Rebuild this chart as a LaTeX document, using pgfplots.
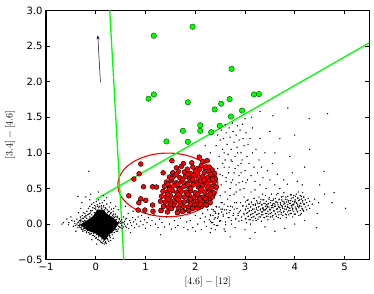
\documentclass[border=0pt]{standalone}
\usepackage{fontspec}
\setmainfont{DejaVu Sans}
\usepackage{pgfplots}
\pgfplotsset{compat=1.18}
\usetikzlibrary{arrows.meta,calc}
\definecolor{mplgreen}{HTML}{00FF00}
\definecolor{mplred}{HTML}{FF0000}

% black field sources
\pgfplotstableread[row sep=\\]{
x y\\
-0.65 0.02\\ -0.55 -0.01\\ -0.48 0.05\\ -0.45 -0.03\\ -0.42 0.01\\ -0.38 0.07\\ -0.36 -0.05\\ -0.34 0.03\\
-0.32 -0.02\\ -0.31 0.1\\ -0.3 0.05\\ -0.29 -0.07\\ -0.27 0.12\\ -0.26 -0.1\\ -0.25 0.08\\ -0.24 0.03\\
-0.23 -0.06\\ -0.22 0.15\\ -0.2 0.1\\ -0.19 -0.12\\ -0.18 0.18\\ -0.17 -0.08\\ -0.15 0.22\\ -0.14 0.14\\
-0.13 -0.14\\ -0.12 0.25\\ -0.1 0.19\\ -0.09 -0.13\\ -0.08 0.28\\ -0.06 0.23\\ -0.05 -0.16\\ -0.04 0.3\\
-0.02 0.26\\ 0.0 -0.2\\ 0.01 0.32\\ 0.03 0.27\\ 0.05 -0.22\\ 0.06 0.34\\ 0.08 0.29\\ 0.1 -0.25\\
0.11 0.24\\ 0.13 0.3\\ 0.14 -0.27\\ 0.16 0.26\\ 0.17 0.33\\ 0.19 -0.26\\ 0.2 0.22\\ 0.22 0.28\\
0.23 -0.2\\ 0.25 0.18\\ 0.27 0.24\\ 0.28 -0.16\\ 0.3 0.15\\ 0.31 0.21\\ 0.32 -0.12\\ 0.34 0.12\\
0.35 0.18\\ 0.36 -0.09\\ 0.38 0.09\\ 0.39 0.14\\ 0.4 -0.07\\ 0.42 0.06\\ 0.43 0.11\\ 0.44 -0.1\\
0.46 0.03\\ 0.47 0.08\\ 0.48 -0.04\\ 0.5 0.01\\ 0.52 0.06\\ 0.53 -0.06\\ 0.55 0.02\\ 0.56 0.1\\
-0.2 0.38\\ -0.28 0.3\\ 0.05 0.45\\ 0.22 0.37\\ -0.35 0.16\\ -0.12 0.34\\ 0.3 0.3\\ 0.15 0.4\\
-0.4 -0.1\\ -0.5 0.1\\ 0.26 -0.24\\ 0.35 -0.2\\ 0.02 -0.28\\ -0.08 -0.22\\ -0.3 0.22\\ 0.4 0.25\\
0.45 0.2\\ -0.58 0.07\\ -0.1 0.42\\ -0.14 0.74\\ -0.36 0.39\\ -0.54 0.02\\ -0.68 0.0\\
-0.32 0.0\\ -0.3 0.03\\ -0.28 -0.04\\ -0.22 0.05\\ -0.18 0.08\\ -0.12 0.1\\ -0.08 0.13\\ -0.03 0.16\\
0.0 0.21\\ 0.06 0.23\\ 0.12 0.22\\ 0.18 0.2\\ 0.24 0.16\\ 0.28 0.13\\ 0.35 0.1\\ 0.4 0.06\\
0.47 0.02\\ 0.46 -0.03\\ 0.41 -0.08\\ 0.33 -0.11\\ 0.28 -0.17\\ 0.22 -0.2\\ 0.2 -0.25\\ 0.15 -0.24\\
0.12 -0.21\\ 0.06 -0.18\\ 0.02 -0.15\\ -0.04 -0.13\\ -0.1 -0.1\\ -0.16 -0.09\\ -0.24 -0.06\\ -0.26 0.04\\
-0.38 0.0\\ -0.36 0.02\\ -0.35 -0.02\\ -0.33 0.05\\ -0.33 -0.04\\ -0.3 0.07\\ -0.3 -0.05\\ -0.27 0.08\\
-0.26 -0.08\\ -0.23 0.1\\ -0.22 -0.09\\ -0.2 0.12\\ -0.18 -0.11\\ -0.16 0.13\\ -0.14 -0.12\\ -0.12 0.15\\
-0.1 0.17\\ -0.1 -0.14\\ -0.07 0.19\\ -0.06 -0.16\\ -0.03 0.22\\ -0.02 -0.17\\ 0.0 0.24\\ 0.01 -0.19\\
0.04 0.25\\ 0.04 -0.22\\ 0.08 0.25\\ 0.08 -0.23\\ 0.11 0.26\\ 0.12 -0.26\\ 0.15 0.24\\ 0.17 -0.28\\
0.19 0.23\\ 0.21 -0.27\\ 0.23 0.2\\ 0.24 -0.22\\ 0.27 0.18\\ 0.29 -0.19\\ 0.31 0.16\\ 0.33 -0.15\\
0.35 0.14\\ 0.37 -0.12\\ 0.39 0.11\\ 0.41 -0.1\\ 0.43 0.09\\ 0.45 -0.07\\ 0.47 0.06\\ 0.49 -0.05\\
0.5 0.04\\ 0.52 -0.02\\ 0.53 0.02\\ 0.55 -0.04\\ -0.43 0.04\\ -0.41 -0.02\\ 0.58 0.0\\ 0.6 0.07\\
0.62 -0.05\\ -0.25 0.16\\ 0.36 0.22\\ 0.3 -0.23\\
0.58 0.04\\ 0.6 -0.03\\ 0.62 0.08\\ 0.64 0.0\\ 0.66 -0.06\\ 0.68 0.05\\ 0.7 0.02\\ 0.72 -0.02\\
0.74 0.09\\ 0.76 0.03\\ 0.78 -0.05\\ 0.8 0.06\\ 0.82 0.0\\ 0.85 0.1\\ 0.87 -0.03\\ 0.9 0.04\\
0.92 0.12\\ 0.95 -0.01\\ 0.98 0.06\\ 1.0 -0.06\\ 1.03 0.02\\ 1.06 0.09\\ 1.1 -0.02\\ 1.13 0.05\\
1.17 0.13\\ 1.2 0.0\\ 1.25 -0.05\\ 1.28 0.07\\ 1.33 0.02\\ 1.38 -0.04\\ 1.42 0.1\\ 1.48 0.0\\
1.52 -0.07\\ 1.58 0.05\\ 1.65 -0.02\\ 1.7 0.08\\ 1.77 -0.05\\ 1.83 0.03\\ 0.65 0.15\\ 0.75 0.18\\
0.9 0.2\\ 0.6 0.25\\ 0.7 -0.12\\ 1.0 0.15\\ 1.3 -0.15\\
1.9 0.05\\ 1.95 -0.05\\ 2.0 0.12\\ 2.05 0.0\\ 2.1 0.08\\ 2.12 -0.08\\ 2.15 0.15\\ 2.18 0.03\\
2.2 0.1\\ 2.22 -0.03\\ 2.25 0.2\\ 2.28 0.06\\ 2.3 0.13\\ 2.32 -0.06\\ 2.35 0.02\\ 2.38 0.18\\
2.4 0.09\\ 2.42 0.25\\ 2.45 -0.02\\ 2.47 0.14\\ 2.5 0.05\\ 2.52 0.3\\ 2.55 0.21\\ 2.58 -0.07\\
1.6 -0.05\\ 2.0 -0.1\\ 2.3 -0.12\\ 1.85 -0.08\\
2.5 0.4\\ 2.52 0.55\\ 2.55 0.68\\ 2.6 0.45\\ 2.58 0.8\\ 2.62 0.6\\ 2.65 0.35\\ 2.67 0.72\\
2.7 0.5\\ 2.72 0.9\\ 2.75 0.62\\ 2.78 0.42\\ 2.8 0.78\\ 2.82 0.55\\ 2.85 1.0\\ 2.88 0.68\\
2.9 0.48\\ 2.92 0.85\\ 2.95 0.6\\ 2.98 0.38\\
2.42 1.1\\ 2.45 1.25\\ 2.48 0.95\\ 2.5 1.18\\ 2.52 1.32\\ 2.55 1.05\\ 2.57 1.2\\ 2.6 0.9\\
2.62 1.28\\ 2.64 1.12\\ 2.66 0.98\\ 2.68 1.35\\ 2.7 1.22\\ 2.72 1.05\\ 2.74 0.88\\ 2.76 1.3\\
2.78 1.15\\ 2.8 0.95\\ 2.82 1.25\\ 2.84 1.08\\ 2.86 0.82\\ 2.88 1.18\\ 2.9 1.32\\ 2.92 1.0\\
2.94 0.9\\ 2.96 1.2\\ 2.98 1.1\\ 3.0 0.75\\ 3.02 1.28\\ 3.04 0.95\\ 3.06 1.12\\ 3.08 0.85\\
3.1 1.2\\ 3.12 0.68\\ 3.15 1.0\\ 3.18 0.8\\ 3.2 0.6\\ 3.22 1.05\\ 3.25 0.72\\ 3.28 0.9\\
3.3 0.55\\ 3.33 0.8\\ 3.36 0.65\\ 3.4 1.0\\ 3.42 0.5\\ 3.45 0.75\\ 3.5 0.62\\ 3.55 0.85\\
3.6 0.55\\ 3.65 0.7\\ 3.7 0.5\\ 3.78 0.62\\ 3.85 0.56\\ 3.95 0.72\\ 4.05 0.6\\ 4.15 0.55\\
2.45 0.78\\ 2.5 0.7\\ 2.55 0.85\\ 2.6 1.4\\ 2.75 1.42\\ 2.85 1.38\\ 2.58 1.0\\ 2.68 0.8\\
2.78 0.72\\ 2.88 0.58\\ 2.98 0.5\\ 3.05 0.62\\ 3.12 0.45\\ 3.2 0.48\\ 3.35 0.42\\ 3.15 1.35\\
2.95 1.4\\ 2.62 0.65\\ 2.72 0.58\\ 2.82 0.45\\ 2.92 0.72\\ 3.02 0.58\\ 2.7 0.4\\
2.31 0.12\\ 2.33 0.02\\ 2.36 0.2\\ 2.38 0.07\\ 2.41 0.15\\ 2.43 -0.02\\ 2.46 0.1\\ 2.48 0.24\\
2.51 0.05\\ 2.53 0.17\\ 2.56 0.13\\ 2.58 0.28\\ 2.61 0.03\\ 2.63 0.2\\ 2.66 0.09\\ 2.68 0.16\\
2.71 0.25\\ 2.73 0.0\\ 2.76 0.12\\ 2.78 0.21\\ 2.81 0.07\\ 2.83 0.3\\ 2.86 0.15\\ 2.88 0.04\\
2.91 0.19\\ 2.93 0.1\\ 2.96 0.26\\ 2.98 0.13\\
3.01 0.08\\ 3.01 0.2\\ 3.01 0.31\\ 3.03 0.15\\ 3.03 0.02\\ 3.03 0.25\\ 3.06 0.11\\ 3.06 0.22\\
3.06 0.34\\ 3.08 0.06\\ 3.08 0.18\\ 3.08 0.28\\ 3.11 0.13\\ 3.11 0.24\\ 3.11 0.0\\ 3.13 0.19\\
3.13 0.09\\ 3.13 0.3\\ 3.16 0.15\\ 3.16 0.27\\ 3.16 0.05\\ 3.18 0.21\\ 3.18 0.11\\ 3.18 0.36\\
3.21 0.17\\ 3.21 0.28\\ 3.21 0.08\\ 3.23 0.13\\ 3.23 0.23\\ 3.23 0.33\\ 3.26 0.19\\ 3.26 0.07\\
3.26 0.29\\ 3.28 0.15\\ 3.28 0.25\\ 3.28 0.38\\ 3.31 0.21\\ 3.31 0.1\\ 3.31 0.31\\ 3.33 0.17\\
3.33 0.27\\ 3.33 0.04\\ 3.36 0.23\\ 3.36 0.13\\ 3.36 0.34\\ 3.38 0.19\\ 3.38 0.29\\ 3.38 0.09\\
3.41 0.15\\ 3.41 0.25\\ 3.41 0.4\\ 3.43 0.22\\ 3.43 0.11\\ 3.43 0.32\\ 3.46 0.18\\ 3.46 0.28\\
3.46 0.06\\ 3.48 0.24\\ 3.48 0.14\\ 3.48 0.35\\ 3.51 0.2\\ 3.51 0.3\\ 3.51 0.1\\ 3.53 0.16\\
3.53 0.26\\ 3.53 0.42\\ 3.56 0.23\\ 3.56 0.12\\ 3.56 0.33\\ 3.58 0.19\\ 3.58 0.29\\ 3.58 0.07\\
3.61 0.25\\ 3.61 0.15\\ 3.61 0.36\\ 3.63 0.21\\ 3.63 0.31\\ 3.63 0.11\\ 3.66 0.17\\ 3.66 0.27\\
3.66 0.43\\ 3.68 0.24\\ 3.68 0.13\\ 3.68 0.34\\ 3.71 0.2\\ 3.71 0.3\\ 3.71 0.08\\ 3.73 0.26\\
3.73 0.16\\ 3.73 0.38\\ 3.76 0.22\\ 3.76 0.32\\ 3.76 0.12\\ 3.78 0.18\\ 3.78 0.28\\ 3.78 0.44\\
3.81 0.25\\ 3.81 0.14\\ 3.81 0.35\\ 3.83 0.21\\ 3.83 0.31\\ 3.83 0.09\\ 3.86 0.27\\ 3.86 0.17\\
3.86 0.39\\ 3.88 0.23\\ 3.88 0.33\\ 3.88 0.13\\ 3.91 0.19\\ 3.91 0.29\\ 3.91 0.41\\ 3.93 0.26\\
3.93 0.15\\ 3.93 0.36\\ 3.96 0.22\\ 3.96 0.32\\ 3.96 0.1\\ 3.98 0.28\\ 3.98 0.18\\ 3.98 0.4\\
4.01 0.24\\ 4.01 0.34\\ 4.01 0.14\\ 4.03 0.2\\ 4.03 0.3\\ 4.03 0.42\\ 4.06 0.27\\ 4.06 0.17\\
4.06 0.37\\ 4.08 0.23\\ 4.08 0.33\\ 4.08 0.12\\ 4.11 0.29\\ 4.11 0.19\\ 4.11 0.4\\ 4.13 0.25\\
4.13 0.35\\ 4.13 0.15\\ 4.16 0.21\\ 4.16 0.31\\ 4.16 0.44\\ 4.18 0.28\\ 4.18 0.18\\ 4.18 0.38\\
4.21 0.24\\ 4.21 0.34\\ 4.24 0.3\\ 4.24 0.2\\ 4.27 0.26\\ 4.27 0.36\\ 4.3 0.22\\ 4.3 0.32\\
4.35 0.28\\ 4.4 0.35\\ 4.48 0.3\\
3.006 0.21\\ 3.018 0.07\\ 3.030 0.25\\ 3.042 0.33\\ 3.054 0.16\\ 3.066 0.11\\ 3.078 0.28\\ 3.090 0.19\\
3.102 0.06\\ 3.114 0.24\\ 3.126 0.31\\ 3.138 0.14\\ 3.150 0.21\\ 3.162 0.10\\ 3.174 0.27\\ 3.186 0.36\\
3.198 0.17\\ 3.210 0.26\\ 3.222 0.05\\ 3.234 0.21\\ 3.246 0.31\\ 3.258 0.14\\ 3.270 0.24\\ 3.282 0.10\\
3.294 0.29\\ 3.306 0.20\\ 3.318 0.35\\ 3.330 0.13\\ 3.342 0.27\\ 3.354 0.17\\ 3.366 0.21\\ 3.378 0.34\\
3.390 0.09\\ 3.402 0.29\\ 3.414 0.20\\ 3.426 0.27\\ 3.438 0.15\\ 3.450 0.25\\ 3.462 0.11\\ 3.474 0.29\\
3.486 0.37\\ 3.498 0.20\\ 3.510 0.15\\ 3.522 0.33\\ 3.534 0.23\\ 3.546 0.10\\ 3.558 0.28\\ 3.570 0.35\\
3.582 0.18\\ 3.594 0.25\\ 3.606 0.14\\ 3.618 0.31\\ 3.630 0.41\\ 3.642 0.21\\ 3.654 0.30\\ 3.666 0.09\\
3.678 0.25\\ 3.690 0.35\\ 3.702 0.18\\ 3.714 0.28\\ 3.726 0.14\\ 3.738 0.34\\ 3.750 0.24\\ 3.762 0.39\\
3.774 0.17\\ 3.786 0.31\\ 3.798 0.21\\ 3.810 0.25\\ 3.822 0.38\\ 3.834 0.13\\ 3.846 0.34\\ 3.858 0.24\\
3.870 0.31\\ 3.882 0.19\\ 3.894 0.29\\ 3.906 0.15\\ 3.918 0.33\\ 3.930 0.41\\ 3.942 0.24\\ 3.954 0.20\\
3.966 0.37\\ 3.978 0.27\\ 3.990 0.14\\ 4.002 0.32\\ 4.014 0.39\\ 4.026 0.22\\ 4.038 0.29\\ 4.050 0.18\\
4.062 0.36\\ 4.074 0.45\\ 4.086 0.25\\ 4.098 0.34\\ 4.110 0.13\\ 4.122 0.29\\ 4.134 0.39\\ 4.146 0.22\\
4.158 0.33\\ 4.170 0.19\\ 4.182 0.38\\ 4.194 0.28\\
2.310 0.04\\ 2.333 0.21\\ 2.356 0.12\\ 2.379 -0.01\\ 2.402 0.17\\ 2.425 0.24\\ 2.448 0.08\\ 2.471 0.15\\
2.494 0.04\\ 2.517 0.21\\ 2.540 0.30\\ 2.563 0.11\\ 2.586 0.20\\ 2.609 -0.01\\ 2.632 0.15\\ 2.655 0.25\\
2.678 0.09\\ 2.701 0.19\\ 2.724 0.05\\ 2.747 0.24\\ 2.770 0.15\\ 2.793 0.30\\ 2.816 0.08\\ 2.839 0.22\\
2.862 0.12\\ 2.885 0.17\\ 2.908 0.30\\ 2.931 0.05\\ 2.954 0.25\\ 2.977 0.15\\
3.35 0.22\\ 3.45 0.24\\ 3.55 0.26\\ 3.65 0.22\\ 3.75 0.25\\ 3.85 0.24\\ 3.95 0.27\\ 4.05 0.25\\
3.4 0.2\\ 3.5 0.21\\ 3.6 0.28\\ 3.7 0.23\\ 3.8 0.29\\ 3.9 0.22\\ 4.0 0.3\\ 4.1 0.26\\
2.4 -0.08\\ 2.6 -0.1\\ 2.8 -0.05\\ 3.0 -0.08\\ 3.2 -0.12\\ 3.4 -0.04\\ 3.6 -0.1\\ 3.8 -0.06\\
4.0 0.0\\ 4.2 0.05\\
3.86 1.63\\ 3.56 1.52\\ 4.29 1.48\\ 4.66 1.55\\ 3.3 1.58\\ 3.13 1.5\\ 3.0 1.48\\ 4.59 0.74\\
4.79 0.44\\ 5.02 0.22\\ 4.44 -0.05\\ 4.6 0.42\\ 4.5 0.55\\ 4.2 0.8\\ 3.9 0.95\\ 4.3 1.05\\
3.7 1.2\\ 3.5 1.3\\ 4.0 1.25\\ 3.6 1.0\\ 3.3 1.2\\ 2.2 1.1\\ 2.3 1.0\\ 2.35 1.3\\
4.75 0.3\\ 4.45 0.15\\ 3.1 -0.2\\ 2.7 -0.18\\
}\blackpts

% solid core of the black cloud
\pgfplotstableread[row sep=\\]{
x y\\
-0.31 -0.01\\ -0.15 0.06\\ -0.05 0.11\\ 0.03 0.2\\ 0.15 0.2\\ 0.22 0.14\\ 0.32 0.1\\
0.46 0.01\\ 0.38 -0.07\\ 0.26 -0.15\\ 0.18 -0.23\\ 0.1 -0.18\\ 0.0 -0.13\\ -0.19 -0.08\\
}\corepoly

\pgfplotstableread[row sep=\\]{
x y\\
0.905 0.843\\ 1.53 0.889\\ 0.871 0.706\\ 0.765 0.632\\ 0.96 0.524\\ 0.664 0.397\\ 0.905 0.355\\
0.865 0.299\\ 1.006 0.333\\ 0.851 0.197\\ 0.986 0.197\\ 1.141 0.267\\ 1.141 0.524\\ 1.354 0.72\\
1.549 0.716\\ 1.314 0.192\\ 1.523 0.22\\ 1.644 0.164\\ 1.744 0.183\\ 1.871 0.192\\ 1.95 0.225\\
2.41 0.52\\ 2.36 0.43\\ 2.29 0.337\\ 2.23 0.267\\ 2.06 0.267\\ 1.76 0.183\\ 1.22 0.52\\ 1.15 0.18\\
2.08 0.94\\ 2.24 0.89\\ 1.93 0.86\\ 1.76 0.85\\ 2.15 0.88\\
1.62 0.79\\ 1.72 0.81\\ 1.84 0.77\\ 1.95 0.8\\ 2.05 0.78\\ 2.12 0.82\\ 2.2 0.79\\ 2.28 0.8\\ 2.34 0.76\\
1.55 0.72\\ 1.66 0.74\\ 1.78 0.73\\ 1.9 0.71\\ 2.0 0.74\\ 2.09 0.77\\ 2.18 0.72\\ 2.27 0.74\\ 2.39 0.71\\
1.48 0.66\\ 1.58 0.68\\ 1.69 0.65\\ 1.8 0.67\\ 1.88 0.64\\ 1.97 0.68\\ 2.06 0.66\\ 2.15 0.67\\
2.24 0.65\\ 2.33 0.68\\ 2.4 0.64\\
1.42 0.59\\ 1.52 0.61\\ 1.62 0.58\\ 1.73 0.6\\ 1.83 0.57\\ 1.92 0.61\\ 2.02 0.59\\ 2.11 0.6\\
2.2 0.58\\ 2.29 0.61\\ 2.38 0.59\\
1.38 0.53\\ 1.47 0.52\\ 1.57 0.54\\ 1.67 0.51\\ 1.77 0.53\\ 1.87 0.52\\ 1.96 0.55\\ 2.06 0.52\\
2.15 0.54\\ 2.25 0.51\\ 2.34 0.53\\ 2.42 0.52\\
1.35 0.46\\ 1.44 0.45\\ 1.54 0.47\\ 1.63 0.44\\ 1.72 0.46\\ 1.82 0.45\\ 1.91 0.47\\ 2.0 0.44\\
2.1 0.46\\ 2.19 0.45\\ 2.29 0.47\\ 2.37 0.44\\
1.32 0.39\\ 1.41 0.38\\ 1.5 0.4\\ 1.6 0.37\\ 1.69 0.39\\ 1.78 0.38\\ 1.88 0.4\\ 1.97 0.37\\
2.06 0.39\\ 2.16 0.38\\ 2.25 0.4\\ 2.34 0.38\\
1.3 0.32\\ 1.4 0.31\\ 1.5 0.33\\ 1.59 0.3\\ 1.68 0.32\\ 1.78 0.31\\ 1.87 0.33\\ 1.96 0.3\\
2.05 0.32\\ 2.14 0.31\\ 2.23 0.33\\ 2.3 0.3\\
1.36 0.25\\ 1.46 0.24\\ 1.56 0.26\\ 1.66 0.23\\ 1.76 0.25\\ 1.86 0.24\\ 1.95 0.26\\ 2.04 0.23\\
2.13 0.25\\ 2.22 0.27\\
1.31 0.19\\ 1.52 0.22\\ 1.64 0.16\\ 1.74 0.18\\ 1.87 0.19\\ 1.95 0.22\\ 1.44 0.17\\ 2.06 0.27\\
1.53 0.64\\ 1.75 0.63\\ 1.95 0.63\\ 2.17 0.62\\ 2.35 0.63\\
1.45 0.56\\ 1.65 0.56\\ 1.85 0.56\\ 2.05 0.56\\ 2.25 0.57\\
1.48 0.49\\ 1.68 0.49\\ 1.9 0.5\\ 2.12 0.49\\ 2.32 0.5\\
1.45 0.42\\ 1.65 0.41\\ 1.85 0.42\\ 2.05 0.42\\ 2.3 0.42\\
1.45 0.35\\ 1.65 0.35\\ 1.9 0.35\\ 2.1 0.35\\ 2.2 0.36\\
1.5 0.28\\ 1.7 0.28\\ 1.9 0.28\\ 2.1 0.28\\
1.62 0.7\\ 1.85 0.7\\ 2.05 0.71\\ 2.3 0.7\\
}\redpts

\pgfplotstableread[row sep=\\]{
x y\\
1.167 2.645\\ 1.946 2.771\\ 2.73 2.18\\ 1.06 1.76\\ 1.167 1.82\\ 1.85 1.71\\ 2.52 1.69\\
2.69 1.754\\ 2.39 1.61\\ 3.18 1.82\\ 3.28 1.826\\ 2.94 1.594\\ 2.716 1.51\\ 2.10 1.388\\
2.10 1.31\\ 1.75 1.31\\ 2.32 1.29\\ 2.49 1.38\\ 1.42 1.16\\ 1.85 1.155\\
}\greenpts

\begin{document}
\begin{tikzpicture}
\begin{axis}[
  width=323pt, height=249pt, scale only axis,
  xmin=-1, xmax=5.5, ymin=-0.5, ymax=3.0,
  xtick={-1,0,1,2,3,4,5},
  xticklabels={−1,0,1,2,3,4,5},
  ytick={-0.5,0,0.5,1,1.5,2,2.5,3},
  yticklabels={−0.5,0.0,0.5,1.0,1.5,2.0,2.5,3.0},
  tick label style={font=\fontsize{10}{12}\selectfont},
  tick align=inside, major tick length=4pt,
  tick style={black, line width=0.6pt},
  axis line style={line width=1.2pt},
  xlabel={$[4.6]-[12]$},
  ylabel={$[3.4]-[4.6]$},
  label style={font=\fontsize{10}{12}\selectfont},
  xlabel style={at={(axis description cs:0.5,-0.09)}, anchor=center},
  ylabel style={at={(axis description cs:-0.111,0.5)}, anchor=center},
  clip=true,
]
\addplot[fill=black, draw=black, line width=0.4pt] table {\corepoly};
\addplot[only marks, mark=*, mark size=0.42pt, black] table {\blackpts};
\draw[mplred, line width=1.1pt] (axis cs:1.449,0.55) ellipse [x radius=1.006, y radius=0.447];
\addplot[mplgreen, line width=1.3pt] coordinates {(0.28,3.0) (0.563,-0.5)};
\addplot[mplgreen, line width=1.3pt] coordinates {(0.0,0.347) (5.5,2.546)};
\addplot[only marks, mark=*, mark size=2.45pt,
  mark options={fill=mplred, draw=black, line width=0.4pt}] table {\redpts};
\addplot[only marks, mark=*, mark size=2.75pt,
  mark options={fill=mplgreen, draw=black!70!green, line width=0.4pt}] table {\greenpts};
\addplot[black, line width=0.5pt, -{Stealth[length=4pt,width=3pt]}]
  coordinates {(0.093,1.99) (0.04,2.65)};
\end{axis}
\pgfresetboundingbox
\path ($(current axis.south west)+(-46pt,-33.4pt)$) rectangle ($(current axis.north east)+(4.6pt,10.4pt)$);
\end{tikzpicture}
\end{document}
